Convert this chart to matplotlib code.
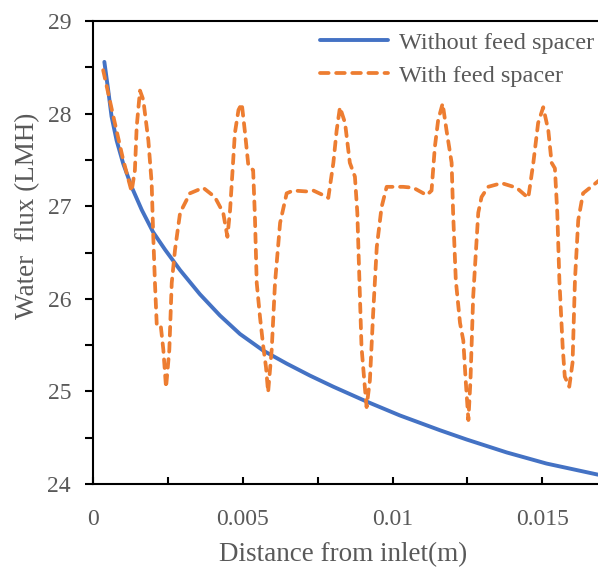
import numpy as np
import matplotlib.pyplot as plt
from matplotlib.ticker import MultipleLocator, FuncFormatter

x_bez = [0.00037, 0.0005, 0.00061, 0.00078, 0.0010, 0.00128, 0.00162, 0.0020, 0.0024,
         0.0029, 0.00356, 0.00423, 0.0049, 0.00568, 0.00646, 0.00724, 0.00802, 0.00913,
         0.01024, 0.01158, 0.01247, 0.01381, 0.01514, 0.01686]
y_bez = [28.56, 28.25, 27.97, 27.71, 27.46, 27.21, 26.96, 26.72, 26.53,
         26.31, 26.05, 25.82, 25.62, 25.44, 25.30, 25.17, 25.05, 24.89,
         24.74, 24.58, 24.48, 24.34, 24.22, 24.10]

x_z = [0.00033, 0.00067, 0.0010, 0.00128, 0.00139, 0.00145, 0.00156, 0.00167, 0.00184,
       0.00195, 0.0020, 0.00206, 0.00212, 0.00225, 0.00234, 0.00243, 0.00254, 0.00262,
       0.00273, 0.0029, 0.00323, 0.00367, 0.00406, 0.00434, 0.00448, 0.00457, 0.00473,
       0.00485, 0.00496, 0.00507, 0.00518, 0.00534, 0.0054, 0.00546, 0.00557, 0.00568,
       0.00577, 0.00584, 0.00596, 0.00607, 0.00624, 0.00646, 0.00668, 0.00713, 0.00735,
       0.00768, 0.00785, 0.00802, 0.00813, 0.00824, 0.00841, 0.00857, 0.00874, 0.00882,
       0.00889, 0.00896, 0.00907, 0.00913, 0.00924, 0.00935, 0.00947, 0.00963, 0.0098,
       0.01035, 0.01069, 0.01114, 0.0113, 0.01141, 0.01152, 0.01167, 0.0118, 0.01197,
       0.01202, 0.01211, 0.01225, 0.01236, 0.01244, 0.01253, 0.0126, 0.01269, 0.01286,
       0.01297, 0.01319, 0.01364, 0.01414, 0.01453, 0.0147, 0.01486, 0.01503, 0.0152,
       0.01531, 0.01542, 0.0155, 0.01557, 0.01568, 0.01575, 0.0159, 0.01601, 0.01609,
       0.0162, 0.01636, 0.0169]
y_z = [28.47, 27.97, 27.50, 27.16, 27.39, 27.86, 28.25, 28.15, 27.71,
       27.25, 26.71, 26.17, 25.72, 25.72, 25.45, 25.04, 25.45, 26.17,
       26.53, 26.93, 27.14, 27.20, 27.10, 26.93, 26.67, 26.96, 27.79,
       28.04, 28.11, 27.79, 27.44, 27.39, 26.88, 26.17, 25.80, 25.48,
       25.26, 24.99, 25.45, 26.17, 26.82, 27.14, 27.17, 27.16, 27.17,
       27.12, 27.09, 27.47, 27.82, 28.07, 27.90, 27.47, 27.32, 26.93,
       26.20, 25.48, 25.05, 24.83, 25.12, 25.85, 26.56, 26.99, 27.21,
       27.21, 27.20, 27.12, 27.17, 27.64, 27.93, 28.11, 27.82, 27.47,
       26.93, 26.20, 25.74, 25.55, 25.12, 24.69, 25.12, 26.02, 26.93,
       27.10, 27.21, 27.25, 27.20, 27.09, 27.47, 27.90, 28.07, 27.82,
       27.47, 27.41, 26.93, 26.20, 25.48, 25.16, 25.05, 25.31, 26.20,
       26.85, 27.14, 27.28]

plt.rcParams['font.family'] = ['Liberation Serif', 'DejaVu Serif']
szary = '#595959'

fig = plt.figure(figsize=(5.98, 5.72), dpi=100)
ax = fig.add_axes([0.156, 0.154, 0.844, 0.809])

ax.plot(x_bez, y_bez, color='#4472C4', lw=2.8, solid_capstyle='round',
        solid_joinstyle='round', label='Without feed spacer')
ax.plot(x_z, y_z, color='#ED7D31', lw=2.7, dashes=(2.3, 2.0), dash_capstyle='round',
        dash_joinstyle='round', label='With feed spacer')

ax.set_xlim(0, 0.01686)
ax.set_ylim(24, 29)

ax.xaxis.set_major_locator(MultipleLocator(0.005))
ax.xaxis.set_minor_locator(MultipleLocator(0.0025))
ax.yaxis.set_major_locator(MultipleLocator(1))
ax.yaxis.set_minor_locator(MultipleLocator(0.5))
ax.xaxis.set_major_formatter(FuncFormatter(lambda v, p: '0' if v == 0 else f'{v:g}'))

ax.tick_params(axis='x', which='both', direction='in', length=5, width=1.5,
               labelsize=17, labelcolor=szary, pad=18)
ax.tick_params(axis='y', which='both', direction='out', length=6, width=1.5,
               labelsize=17, labelcolor=szary, pad=10)

for s in ['left', 'bottom', 'top']:
    ax.spines[s].set_linewidth(1.5)
    ax.spines[s].set_color('black')
ax.spines['right'].set_visible(False)

ax.set_xlabel('Distance from inlet(m)', fontsize=19.5, color=szary, va='center')
ax.set_ylabel('Water  flux (LMH)', fontsize=19.5, color=szary, va='center')
ax.xaxis.set_label_coords(0.495, -0.152)
ax.yaxis.set_label_coords(-0.131, 0.579)

leg = ax.legend(loc='upper right', frameon=False, fontsize=17.5, handlelength=2.8,
                handletextpad=0.45, labelspacing=0.45, borderaxespad=0.0,
                borderpad=0.15, bbox_to_anchor=(1.0, 0.985))
for t in leg.get_texts():
    t.set_color(szary)

fig.savefig('out.png', dpi=100)
